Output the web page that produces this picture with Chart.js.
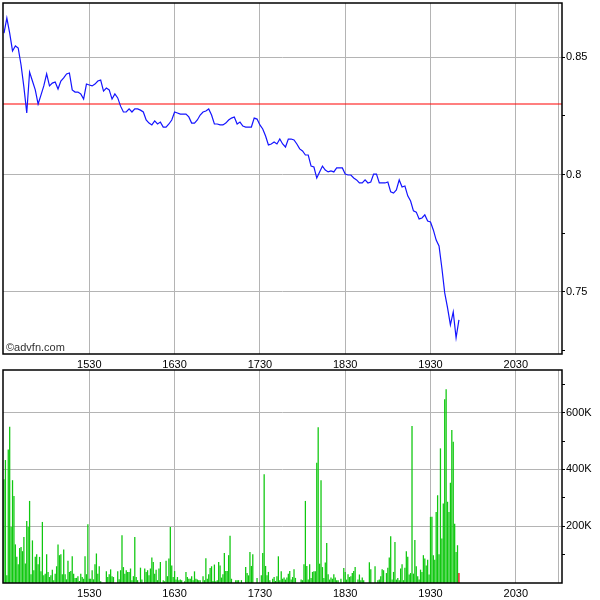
<!DOCTYPE html>
<html>
<head>
<meta charset="utf-8">
<script src="https://cdn.jsdelivr.net/npm/chart.js@4.4.0/dist/chart.umd.min.js"></script>
<style>
  body { margin: 0; background: #fff; }
  #wrap { position: relative; width: 600px; height: 600px; overflow: hidden; }
  #top { position: absolute; left: 0; top: 0; }
  #bot { position: absolute; left: 0; top: 367px; }
  #credit { position: absolute; left: 6px; top: 341px; font: 11px "Liberation Sans", Arial, sans-serif; color: #333; }
</style>
</head>
<body>
<div id="wrap">
  <canvas id="top" width="600" height="375"></canvas>
  <canvas id="bot" width="600" height="233"></canvas>
  <div id="credit">©advfn.com</div>
</div>
<script>
// times are minutes after midnight, session opens 14:30
const startMinute = 870;
const priceStep = 2;          // price read every 2 minutes
const prevClose = 0.83;

const prices = [
  0.8602, 0.8666, 0.8602, 0.8526, 0.8547, 0.8538, 0.8466, 0.8372, 0.8262, 0.8436,
  0.8398, 0.8360, 0.8300, 0.8338, 0.8377, 0.8428, 0.8377, 0.8389, 0.8394, 0.8364,
  0.8398, 0.8411, 0.8428, 0.8432, 0.8360, 0.8351, 0.8351, 0.8343, 0.8321, 0.8385,
  0.8381, 0.8377, 0.8385, 0.8398, 0.8402, 0.8355, 0.8368, 0.8360, 0.8321, 0.8343,
  0.8326, 0.8291, 0.8266, 0.8266, 0.8279, 0.8266, 0.8279, 0.8279, 0.8274, 0.8266,
  0.8232, 0.8219, 0.8211, 0.8228, 0.8215, 0.8223, 0.8202, 0.8202, 0.8215, 0.8232,
  0.8266, 0.8262, 0.8257, 0.8257, 0.8257, 0.8245, 0.8219, 0.8219, 0.8232, 0.8253,
  0.8266, 0.8270, 0.8279, 0.8253, 0.8215, 0.8215, 0.8211, 0.8211, 0.8219, 0.8232,
  0.8240, 0.8245, 0.8215, 0.8223, 0.8206, 0.8202, 0.8202, 0.8202, 0.8240, 0.8236,
  0.8211, 0.8194, 0.8164, 0.8126, 0.8130, 0.8138, 0.8130, 0.8151, 0.8130, 0.8117,
  0.8151, 0.8151, 0.8147, 0.8130, 0.8109, 0.8100, 0.8083, 0.8083, 0.8036, 0.8032,
  0.7985, 0.8011, 0.8036, 0.8019, 0.8011, 0.8015, 0.8011, 0.8028, 0.8028, 0.8028,
  0.8002, 0.7998, 0.7998, 0.7985, 0.7977, 0.7964, 0.7964, 0.7977, 0.7964, 0.7968,
  0.8002, 0.8002, 0.7964, 0.7964, 0.7964, 0.7968, 0.7926, 0.7921, 0.7934, 0.7977,
  0.7947, 0.7951, 0.7909, 0.7887, 0.7845, 0.7840, 0.7811, 0.7815, 0.7828, 0.7802,
  0.7798, 0.7764, 0.7721, 0.7696, 0.7602, 0.7496, 0.7432, 0.7360, 0.7415, 0.7305,
  0.7381
];

// one bar per minute, thousands of shares
const volumeK = [
  365, 433, 27, 470, 550, 197, 362, 306, 136, 92,
  66, 123, 127, 112, 162, 69, 218, 197, 289, 31,
  150, 45, 92, 101, 66, 92, 41, 215, 27, 33,
  101, 39, 21, 27, 47, 10, 33, 59, 136, 98,
  101, 31, 118, 31, 13, 78, 39, 42, 94, 33,
  18, 18, 24, 7, 33, 21, 15, 94, 31, 207,
  15, 15, 45, 13, 66, 104, 33, 59, 6, 0,
  0, 0, 41, 21, 31, 48, 24, 21, 0, 0,
  41, 13,
  45, 168, 56, 33, 45, 39, 39, 51, 10, 24,
  162, 21, 10, 0, 54, 12, 0, 51, 39, 45,
  27, 51, 90, 74, 33, 47, 10, 51, 74, 0,
  10, 6, 78, 24, 86, 197, 62, 21, 42, 12,
  21, 10, 12, 10, 0, 6, 39, 21, 15, 15,
  24, 10, 41, 15, 12, 10, 10, 0, 24, 10,
  87, 15, 31, 53, 59, 7, 65, 6, 10, 74,
  62, 19, 31, 106, 42, 42, 98, 166, 15, 0,
  0, 10, 10,
  10, 0, 10, 0, 0, 56, 35, 27, 109, 60,
  101, 0, 0, 18, 0, 0, 27, 106, 383, 60,
  27, 39, 10, 0, 15, 21, 7, 24, 94, 10,
  41, 15, 19, 12, 19, 33, 42, 12, 21, 48,
  18, 0, 0, 0, 12, 10, 66, 289, 60, 12,
  66, 18, 39, 41, 41, 423, 548, 68, 362, 56,
  18, 72, 141, 31, 12, 19, 15, 31, 19, 10,
  10, 0, 15, 0, 53, 39, 12, 31, 21, 24,
  35, 42, 56,
  0, 12, 30, 10, 19, 10, 0, 0, 0, 73,
  48, 0, 0, 59, 0, 10, 12, 24, 48, 45,
  0, 35, 54, 90, 165, 12, 39, 144, 12, 18,
  10, 51, 66, 10, 54, 112, 92, 30, 35, 553,
  33, 151, 59, 24, 12, 47, 39, 98, 86, 62,
  82, 30, 233, 233, 98, 82, 250, 309, 101, 474,
  157, 280, 647, 682, 286, 250, 353, 539, 497, 209,
  109, 133, 35
];

const hourTicks = [930, 990, 1050, 1110, 1170, 1230];
const closeMinute = 1260;
const priceTicks = [0.75, 0.8, 0.85];
const volumeTicks = [200, 400, 600];

const xMin = 869.3, xMax = 1262.5;
const font = { family: 'Liberation Sans', size: 11 };
const gridGrey = '#b4b4b4';

function hhmm(m) {
  return String(Math.floor(m / 60) * 100 + (m % 60));
}
function near(list, v, eps) {
  return list.some(t => Math.abs(t - v) < eps);
}
function noPad(s) {
  s.paddingTop = 0; s.paddingBottom = 0; s.paddingLeft = 0; s.paddingRight = 0;
}

const frame = {
  id: 'frame',
  afterDraw(chart) {
    const { ctx, chartArea: a } = chart;
    ctx.save();
    ctx.strokeStyle = '#000';
    ctx.lineWidth = 1.5;
    ctx.strokeRect(a.left, a.top, a.right - a.left, a.bottom - a.top);
    ctx.restore();
  }
};

function timeAxis(h) {
  return {
    type: 'linear', min: xMin, max: xMax, offset: false,
    afterBuildTicks: s => { s.ticks = hourTicks.concat([closeMinute]).map(v => ({ value: v })); },
    afterFit: s => { s.height = h; noPad(s); },
    grid: { color: gridGrey, drawTicks: false, offset: false },
    border: { display: false },
    ticks: {
      padding: 4, color: '#000', font: font, maxRotation: 0, autoSkip: false,
      callback: v => v === closeMinute ? '' : hhmm(v)
    }
  };
}

const priceMinor = priceTicks.map(t => t - 0.025);
const topChart = new Chart(document.getElementById('top'), {
  type: 'line',
  data: {
    datasets: [{
      data: prices.map((p, i) => ({ x: startMinute + i * priceStep, y: p })),
      borderColor: '#1414ff',
      borderWidth: 1.2,
      pointRadius: 0,
      tension: 0
    }, {
      data: [{ x: xMin, y: prevClose }, { x: xMax, y: prevClose }],
      borderColor: '#ff0000',
      borderWidth: 1.2,
      pointRadius: 0
    }]
  },
  options: {
    responsive: false,
    animation: false,
    layout: { padding: { left: 3, top: 3, right: 0, bottom: 0 } },
    plugins: { legend: { display: false }, tooltip: { enabled: false } },
    scales: {
      x: timeAxis(21),
      y: {
        position: 'right', min: 0.7236, max: 0.873,
        afterBuildTicks: s => { s.ticks = priceMinor.concat(priceTicks).sort().map(v => ({ value: v })); },
        afterFit: s => { s.width = 38; noPad(s); },
        grid: {
          color: c => near(priceTicks, c.tick.value, 1e-6) ? gridGrey : 'rgba(0,0,0,0)',
          tickColor: '#000', tickLength: 3
        },
        border: { display: false },
        ticks: {
          padding: 1, color: '#000', font: font,
          callback: v => near(priceTicks, v, 1e-6) ? String(v) : ''
        }
      }
    }
  },
  plugins: [frame]
});

const volMinor = [100, 300, 500, 700];
const botChart = new Chart(document.getElementById('bot'), {
  type: 'bar',
  data: {
    datasets: [{
      data: volumeK.map((v, i) => ({ x: startMinute + i, y: v })),
      backgroundColor: volumeK.map((v, i) => i === volumeK.length - 1 ? '#e00000' : '#10c810'),
      borderWidth: 0,
      barPercentage: 1,
      categoryPercentage: 0.9
    }]
  },
  options: {
    responsive: false,
    animation: false,
    layout: { padding: { left: 3, top: 3, right: 0, bottom: 0 } },
    plugins: { legend: { display: false }, tooltip: { enabled: false } },
    scales: {
      x: timeAxis(17),
      y: {
        position: 'right', min: 0, max: 750,
        afterBuildTicks: s => { s.ticks = volMinor.concat(volumeTicks).sort((a, b) => a - b).map(v => ({ value: v })); },
        afterFit: s => { s.width = 38; noPad(s); },
        grid: {
          color: c => volumeTicks.includes(c.tick.value) ? gridGrey : 'rgba(0,0,0,0)',
          tickColor: '#000', tickLength: 3
        },
        border: { display: false },
        ticks: {
          padding: 1, color: '#000', font: font,
          callback: v => volumeTicks.includes(v) ? v + 'K' : ''
        }
      }
    }
  },
  plugins: [frame]
});
</script>
</body>
</html>
